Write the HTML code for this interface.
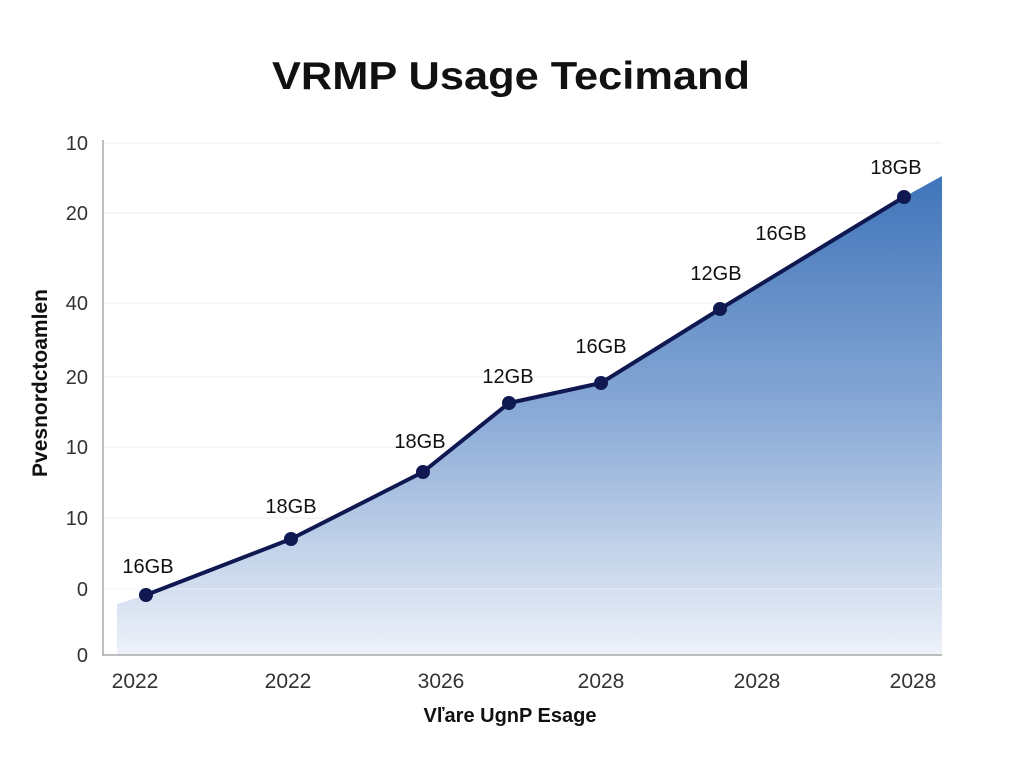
<!DOCTYPE html>
<html><head><meta charset="utf-8"><style>
html,body{margin:0;padding:0;background:#fff;width:1024px;height:768px;overflow:hidden}
svg{display:block}
text{font-family:"Liberation Sans",sans-serif}
</style></head><body>
<svg width="1024" height="768" viewBox="0 0 1024 768">
<defs>
<linearGradient id="g" x1="0" y1="176" x2="0" y2="655" gradientUnits="userSpaceOnUse">
<stop offset="0" stop-color="#3f74ba"/>
<stop offset="0.5" stop-color="#8aaad6"/>
<stop offset="1" stop-color="#eef2f9"/>
</linearGradient>
</defs>
<text x="272" y="89" textLength="478" lengthAdjust="spacingAndGlyphs" font-size="39" font-weight="bold" fill="#111">VRMP Usage Tecimand</text>
<g stroke="#eceef2" stroke-width="1">
<line x1="103" y1="143" x2="942" y2="143"/>
<line x1="103" y1="213" x2="942" y2="213"/>
<line x1="103" y1="303" x2="942" y2="303"/>
<line x1="103" y1="377" x2="942" y2="377"/>
<line x1="103" y1="447" x2="942" y2="447"/>
<line x1="103" y1="518" x2="942" y2="518"/>
<line x1="103" y1="589" x2="942" y2="589"/>
</g>
<path d="M117,604 L146,595 L291,539 L423,472 L509,403 L601,383 L720,309 L904,197 L942,176 L942,655 L117,655 Z" fill="url(#g)"/>
<line x1="103" y1="589" x2="942" y2="589" stroke="#ffffff" stroke-opacity="0.5"/>
<line x1="103" y1="140" x2="103" y2="656" stroke="#aaa" stroke-width="1.5"/>
<line x1="103" y1="655" x2="942" y2="655" stroke="#aaa" stroke-width="1.5"/>
<polyline points="146,595 291,539 423,472 509,403 601,383 720,309 904,197" fill="none" stroke="#0f1850" stroke-width="4" stroke-linejoin="round"/>
<g fill="#0f1850">
<circle cx="146" cy="595" r="7"/><circle cx="291" cy="539" r="7"/><circle cx="423" cy="472" r="7"/>
<circle cx="509" cy="403" r="7"/><circle cx="601" cy="383" r="7"/><circle cx="720" cy="309" r="7"/><circle cx="904" cy="197" r="7"/>
</g>
<g font-size="20" fill="#111" text-anchor="middle">
<text x="148" y="573">16GB</text><text x="291" y="513">18GB</text><text x="420" y="448">18GB</text>
<text x="508" y="383">12GB</text><text x="601" y="353">16GB</text><text x="716" y="280">12GB</text>
<text x="781" y="240">16GB</text><text x="896" y="174">18GB</text>
</g>
<g font-size="20" fill="#333" text-anchor="end">
<text x="88" y="150">10</text><text x="88" y="220">20</text><text x="88" y="310">40</text>
<text x="88" y="384">20</text><text x="88" y="454">10</text><text x="88" y="525">10</text>
<text x="88" y="596">0</text><text x="88" y="662">0</text>
</g>
<g font-size="21" fill="#333" text-anchor="middle">
<text x="135" y="688">2022</text><text x="288" y="688">2022</text><text x="441" y="688">3026</text>
<text x="601" y="688">2028</text><text x="757" y="688">2028</text><text x="913" y="688">2028</text>
</g>
<text x="510" y="722" text-anchor="middle" font-size="20" font-weight="bold" fill="#111">Vľare UgnP Esage</text>
<text transform="translate(47,383) rotate(-90)" text-anchor="middle" font-size="21" font-weight="bold" fill="#111">Pvesnordctoamlen</text>
</svg>
</body></html>
